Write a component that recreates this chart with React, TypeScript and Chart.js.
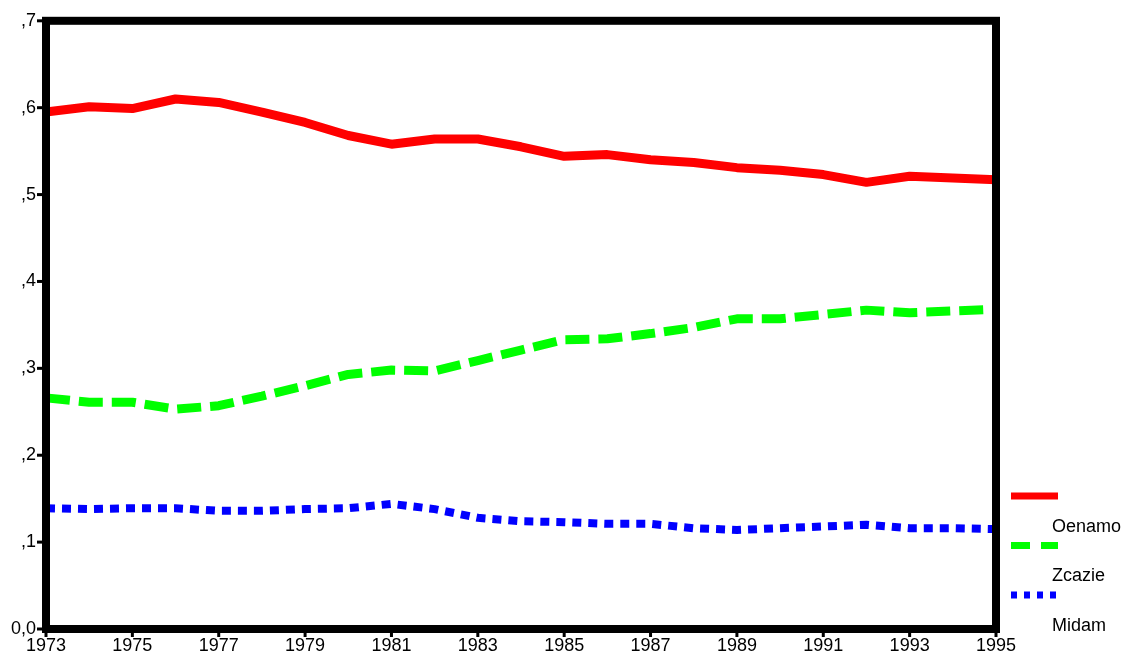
import React, { useEffect, useRef } from 'react';
import { Chart, registerables } from 'chart.js';

Chart.register(...registerables);

const years = ['1973', '1974', '1975', '1976', '1977', '1978', '1979', '1980', '1981', '1982', '1983', '1984', '1985', '1986', '1987', '1988', '1989', '1990', '1991', '1992', '1993', '1994', '1995'];
const oenamo = [0.595, 0.601, 0.599, 0.61, 0.606, 0.595, 0.583, 0.568, 0.558, 0.564, 0.564, 0.555, 0.544, 0.546, 0.54, 0.537, 0.531, 0.528, 0.523, 0.514, 0.521, 0.519, 0.517];
const zcazie = [0.266, 0.261, 0.261, 0.253, 0.257, 0.268, 0.28, 0.293, 0.298, 0.297, 0.309, 0.321, 0.333, 0.334, 0.34, 0.347, 0.357, 0.357, 0.362, 0.367, 0.364, 0.366, 0.368];
const midam = [0.139, 0.138, 0.139, 0.139, 0.136, 0.136, 0.138, 0.139, 0.144, 0.138, 0.128, 0.124, 0.123, 0.121, 0.121, 0.116, 0.114, 0.116, 0.118, 0.12, 0.116, 0.116, 0.115];
const yTickLabels = ['0,0', ',1', ',2', ',3', ',4', ',5', ',6', ',7'];
const seriesNames = ['Oenamo', 'Zcazie', 'Midam'];
const seriesColors = ['#ff0000', '#00ff00', '#0000ff'];

const FONT = "'Liberation Sans', Arial, sans-serif";

const framePlugin = {
  id: 'frame',
  afterDatasetsDraw(chart: any) {
    const { ctx, chartArea } = chart;
    const { left, right, top, bottom } = chartArea;
    ctx.save();
    ctx.strokeStyle = '#000';
    ctx.lineWidth = 8;
    ctx.lineJoin = 'miter';
    ctx.strokeRect(left, top, right - left, bottom - top);
    // tick stubs
    ctx.lineWidth = 3;
    const ys = chart.scales.y;
    ys.ticks.forEach((t: any) => {
      const py = ys.getPixelForValue(t.value);
      ctx.beginPath();
      ctx.moveTo(left - 4, py);
      ctx.lineTo(left - 9, py);
      ctx.stroke();
    });
    const xs = chart.scales.x;
    years.forEach((_, i) => {
      if (i % 2 !== 0) return;
      const px = xs.getPixelForValue(i);
      ctx.beginPath();
      ctx.moveTo(px, bottom + 4);
      ctx.lineTo(px, bottom + 8);
      ctx.stroke();
    });
    ctx.restore();
  },
  afterDraw(chart: any) {
    const { ctx } = chart;
    ctx.save();
    chart.data.datasets.forEach((ds: any, i: number) => {
      const sy = 496 + i * 49.5;
      ctx.beginPath();
      ctx.strokeStyle = ds.borderColor;
      ctx.lineWidth = 7;
      ctx.lineCap = 'butt';
      ctx.setLineDash(i === 1 ? [19, 11] : i === 2 ? [6, 7] : []);
      ctx.moveTo(1011, sy);
      ctx.lineTo(1058, sy);
      ctx.stroke();
      ctx.setLineDash([]);
      ctx.fillStyle = '#000';
      ctx.font = `18px ${FONT}`;
      ctx.textAlign = 'left';
      ctx.textBaseline = 'middle';
      ctx.fillText(ds.label, 1052, sy + 31);
    });
    ctx.restore();
  },
};

export default function App() {
  const ref = useRef<HTMLCanvasElement | null>(null);

  useEffect(() => {
    document.body.style.margin = '0';
    const canvas = ref.current;
    if (!canvas) return;
    const chart = new Chart(canvas, {
      type: 'line',
      data: {
        labels: years,
        datasets: [
          {
            label: seriesNames[0],
            data: oenamo,
            borderColor: seriesColors[0],
            borderWidth: 9,
            pointRadius: 0,
            borderJoinStyle: 'bevel',
            borderCapStyle: 'butt',
            tension: 0,
          },
          {
            label: seriesNames[1],
            data: zcazie,
            borderColor: seriesColors[1],
            borderWidth: 9,
            borderDash: [24, 9],
            pointRadius: 0,
            borderJoinStyle: 'bevel',
            borderCapStyle: 'butt',
            tension: 0,
          },
          {
            label: seriesNames[2],
            data: midam,
            borderColor: seriesColors[2],
            borderWidth: 8,
            borderDash: [9, 7],
            pointRadius: 0,
            borderJoinStyle: 'bevel',
            borderCapStyle: 'butt',
            tension: 0,
          },
        ],
      },
      options: {
        animation: false,
        responsive: false,
        events: [],
        layout: { padding: { top: 20, right: 125, left: 0, bottom: 0 } },
        plugins: {
          legend: { display: false },
          tooltip: { enabled: false },
        },
        scales: {
          x: {
            type: 'category',
            offset: false,
            grid: { display: false, drawTicks: false },
            border: { display: false },
            ticks: {
              autoSkip: false,
              maxRotation: 0,
              padding: 6,
              color: '#000',
              font: { family: FONT, size: 18 },
              callback: (_v: any, i: number) => (i % 2 === 0 ? years[i] : ''),
            },
            afterFit: (s: any) => {
              s.height = 26;
            },
          },
          y: {
            min: 0,
            max: 0.7,
            grid: { display: false, drawTicks: false },
            border: { display: false },
            ticks: {
              stepSize: 0.1,
              padding: 10,
              color: '#000',
              font: { family: FONT, size: 18 },
              callback: (_v: any, i: number) => yTickLabels[i],
            },
            afterFit: (s: any) => {
              s.width = 46;
            },
          },
        },
      },
      plugins: [framePlugin],
    });
    return () => chart.destroy();
  }, []);

  return (
    <div style={{ width: 1121, height: 655 }}>
      <canvas ref={ref} width={1121} height={655} style={{ display: 'block' }} />
    </div>
  );
}
